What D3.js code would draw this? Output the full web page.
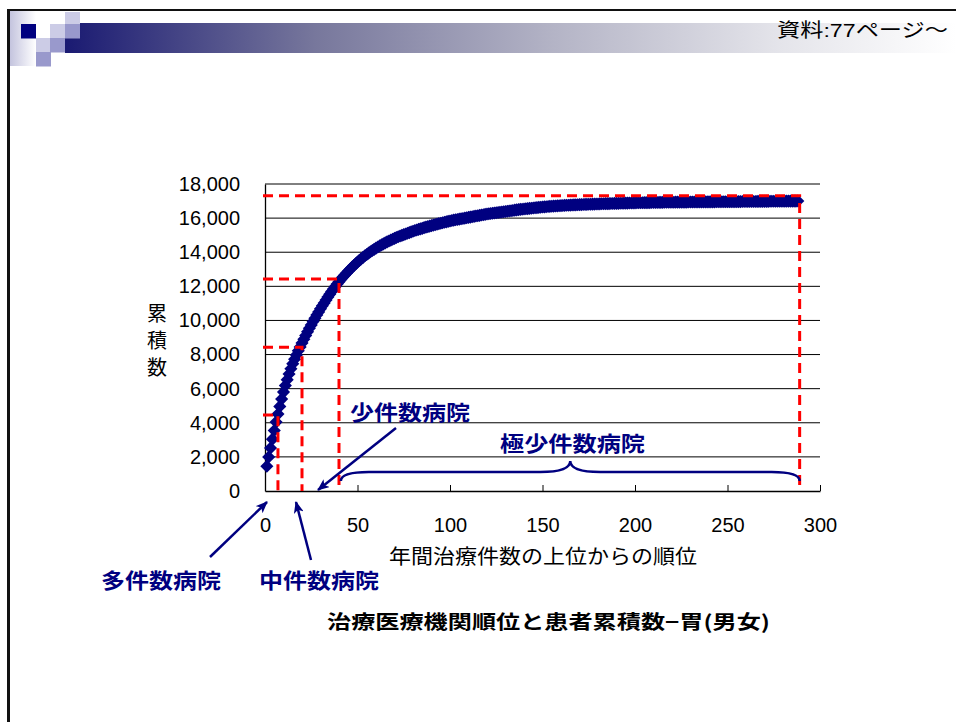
<!DOCTYPE html>
<html>
<head>
<meta charset="utf-8">
<script src="https://cdn.jsdelivr.net/npm/d3@7"></script>
<style>
  body { margin: 0; background: #fff; }
  svg { display: block; }
  text { font-family: "Liberation Sans", Arial, "Noto Sans CJK JP", sans-serif; }
  .jp { font-family: "Noto Sans CJK JP", sans-serif; }
</style>
</head>
<body>
<svg id="chart"></svg>
<script>
// x: 年間治療件数の上位からの順位, y: 累積数
const xTicks = [0, 50, 100, 150, 200, 250, 300];
const yTicks = [0, 2000, 4000, 6000, 8000, 10000, 12000, 14000, 16000, 18000];

// cumulative patients by hospital rank (rank 1 .. 288)
const cumPatients = [
  1450, 1990, 2520, 3040, 3550, 4040, 4510, 4960, 5390, 5800,
  6180, 6530, 6860, 7170, 7460, 7730, 7980, 8220, 8450, 8680,
  8900, 9120, 9330, 9540, 9740, 9940, 10130, 10320, 10500, 10680,
  10860, 11030, 11200, 11370, 11530, 11690, 11840, 11990, 12130, 12270,
  12400, 12530, 12650, 12770, 12890, 13000, 13110, 13220, 13320, 13420,
  13520, 13610, 13700, 13790, 13870, 13950, 14030, 14100, 14170, 14240,
  14310, 14370, 14430, 14490, 14550, 14610, 14660, 14710, 14760, 14810,
  14860, 14910, 14950, 14990, 15030, 15070, 15110, 15150, 15190, 15230,
  15270, 15300, 15340, 15370, 15400, 15440, 15470, 15500, 15530, 15560,
  15590, 15620, 15650, 15680, 15700, 15730, 15760, 15780, 15810, 15830,
  15860, 15880, 15900, 15920, 15940, 15960, 15980, 16000, 16020, 16040,
  16060, 16080, 16100, 16120, 16140, 16160, 16180, 16200, 16220, 16240,
  16255, 16270, 16285, 16300, 16315, 16330, 16345, 16360, 16375, 16390,
  16405, 16420, 16435, 16450, 16465, 16480, 16495, 16510, 16522, 16534,
  16546, 16558, 16570, 16582, 16594, 16605, 16616, 16627, 16638, 16648,
  16658, 16668, 16677, 16686, 16695, 16703, 16711, 16719, 16727, 16734,
  16740, 16746, 16752, 16758, 16764, 16769, 16774, 16779, 16784, 16789,
  16794, 16799, 16803, 16807, 16811, 16815, 16819, 16823, 16827, 16831,
  16835, 16839, 16843, 16846, 16849, 16852, 16855, 16858, 16861, 16864,
  16867, 16870, 16873, 16876, 16879, 16882, 16885, 16888, 16891, 16894,
  16897, 16899, 16901, 16903, 16905, 16907, 16909, 16911, 16913, 16915,
  16917, 16919, 16921, 16923, 16925, 16927, 16929, 16930, 16931, 16932,
  16933, 16934, 16935, 16936, 16937, 16938, 16939, 16940, 16941, 16942,
  16943, 16944, 16945, 16946, 16947, 16948, 16949, 16950, 16951, 16952,
  16953, 16954, 16955, 16956, 16957, 16958, 16959, 16960, 16961, 16962,
  16963, 16964, 16965, 16966, 16967, 16968, 16969, 16970, 16971, 16972,
  16973, 16974, 16975, 16976, 16977, 16978, 16979, 16980, 16981, 16982,
  16983, 16984, 16985, 16986, 16987, 16988, 16989, 16990, 16991, 16992,
  16993, 16994, 16995, 16996, 16997, 16998, 16999, 17000
];

// red dashed guide corners (rank, cumulative value)
const guideRanks = [7, 20, 40, 289];
const guideValues = [4450, 8425, 12430, 17314];

const groupLabels = ["多件数病院", "中件数病院", "少件数病院", "極少件数病院"];
const chartTitle = "治療医療機関順位と患者累積数−胃(男女)";
const xTitle = "年間治療件数の上位からの順位";
const yTitle = ["累", "積", "数"];
const sourceNote = "資料:77ページ～";

const W = 956, H = 722;
const navy = "#000080";

const svg = d3.select("#chart").attr("width", W).attr("height", H);

// ---- slide decoration ----
const defs = svg.append("defs");
const grad = defs.append("linearGradient")
  .attr("id", "band").attr("gradientUnits", "userSpaceOnUse")
  .attr("x1", 65).attr("x2", 956).attr("y1", 0).attr("y2", 0);
grad.append("stop").attr("offset", "0%").attr("stop-color", "#1a1a72");
grad.append("stop").attr("offset", "28%").attr("stop-color", "#77779c");
grad.append("stop").attr("offset", "55%").attr("stop-color", "#b4b4c6");
grad.append("stop").attr("offset", "80%").attr("stop-color", "#e4e4ea");
grad.append("stop").attr("offset", "100%").attr("stop-color", "#ffffff");

const grad2 = defs.append("linearGradient").attr("id", "leftfade");
grad2.append("stop").attr("offset", "0%").attr("stop-color", "#c4c4de");
grad2.append("stop").attr("offset", "100%").attr("stop-color", "#ffffff");

svg.append("rect").attr("x", 10).attr("y", 11).attr("width", 26).attr("height", 55).attr("fill", "url(#leftfade)");
svg.append("rect").attr("x", 65).attr("y", 23).attr("width", 891).attr("height", 30).attr("fill", "url(#band)");

const squares = [
  [21, 24, navy], [65, 12, "#ccccE6"], [50, 24, "#ccccE6"], [65, 24, "#9999cc"],
  [36, 38, "#ccccE6"], [50, 38, "#9999cc"], [36, 52, "#9999cc"]
];
svg.selectAll(".sq").data(squares).enter().append("rect")
  .attr("class", "sq")
  .attr("x", d => d[0]).attr("y", d => d[1])
  .attr("width", 15).attr("height", 14.5)
  .attr("fill", d => d[2]);

svg.append("line").attr("x1", 7).attr("x2", W).attr("y1", 10).attr("y2", 10)
  .attr("stroke", "#111").attr("stroke-width", 2);
svg.append("line").attr("x1", 8.5).attr("x2", 8.5).attr("y1", 9).attr("y2", H)
  .attr("stroke", "#111").attr("stroke-width", 3);

svg.append("text").attr("x", 777).attr("y", 37)
  .attr("font-size", 19).attr("fill", "#000")
  .attr("textLength", 171).attr("lengthAdjust", "spacingAndGlyphs")
  .text(sourceNote);

// ---- chart ----
const x = d3.scaleLinear().domain([0, 300]).range([265, 820]);
const y = d3.scaleLinear().domain([0, 18000]).range([491, 184]);

svg.append("g").selectAll("line").data(yTicks.filter(d => d > 0)).enter().append("line")
  .attr("x1", x(0)).attr("x2", x(300))
  .attr("y1", d => y(d)).attr("y2", d => y(d))
  .attr("stroke", "#000").attr("stroke-width", 1);

const yAxis = svg.append("g")
  .attr("transform", `translate(${x(0)},0)`)
  .call(d3.axisLeft(y).tickValues(yTicks).tickSize(0).tickPadding(25).tickFormat(d3.format(",")));
yAxis.select(".domain").attr("stroke", "#000").attr("stroke-width", 1.3);
yAxis.selectAll("text").attr("font-size", 20).attr("font-family", "Liberation Sans, Arial, sans-serif").attr("fill", "#000");

const xAxis = svg.append("g")
  .attr("transform", `translate(0,${y(0)})`)
  .call(d3.axisBottom(x).tickValues(xTicks).tickSizeInner(-6).tickSizeOuter(0).tickPadding(27));
xAxis.select(".domain").attr("stroke", "#000").attr("stroke-width", 1.3);
xAxis.selectAll("line").attr("stroke", "#000");
xAxis.selectAll("text").attr("font-size", 20).attr("font-family", "Liberation Sans, Arial, sans-serif").attr("fill", "#000");

// axis titles
svg.append("text").attr("class", "jp").attr("x", 543).attr("y", 564)
  .attr("text-anchor", "middle").attr("font-size", 20).attr("fill", "#000")
  .attr("textLength", 308).attr("lengthAdjust", "spacingAndGlyphs")
  .text(xTitle);
svg.append("g").selectAll("text").data(yTitle).enter().append("text")
  .attr("class", "jp").attr("x", 157).attr("y", (d, i) => 321 + i * 27)
  .attr("text-anchor", "middle").attr("font-size", 20).attr("fill", "#000")
  .text(d => d);

// data points (diamonds)
const diamond = d3.symbol().type(d3.symbolSquare).size(86);
svg.append("g").selectAll("path").data(cumPatients).enter().append("path")
  .attr("d", diamond)
  .attr("transform", (d, i) => `translate(${x(i + 1)},${y(d)}) rotate(45)`)
  .attr("fill", navy);

// red dashed guides
const guides = svg.append("g").attr("stroke", "#ff0000").attr("stroke-width", 3)
  .attr("stroke-dasharray", "10,6").attr("fill", "none");
guideRanks.forEach((r, i) => {
  guides.append("path")
    .attr("d", `M${x(0) - 2},${y(guideValues[i])}H${x(r)}V${y(0)}`);
});

// brace under 極少件数病院
const bx0 = x(41), bx1 = x(289), bm = (bx0 + bx1) / 2, yb = y(0);
svg.append("path")
  .attr("d", `M${bx0},${yb - 10} Q${bx0},${yb - 19} ${bx0 + 28},${yb - 19} L${bm - 30},${yb - 19}` +
             ` C${bm - 8},${yb - 19} ${bm},${yb - 23} ${bm},${yb - 30}` +
             ` C${bm},${yb - 23} ${bm + 8},${yb - 19} ${bm + 30},${yb - 19}` +
             ` L${bx1 - 28},${yb - 19} Q${bx1},${yb - 19} ${bx1},${yb - 10}`)
  .attr("fill", "none").attr("stroke", navy).attr("stroke-width", 2.5);

// arrows
defs.append("marker").attr("id", "arrow")
  .attr("viewBox", "0 0 12 10").attr("refX", 11).attr("refY", 5)
  .attr("markerWidth", 12).attr("markerHeight", 10)
  .attr("markerUnits", "userSpaceOnUse").attr("orient", "auto")
  .append("path").attr("d", "M0,0 L12,5 L0,10 L3,5 Z").attr("fill", navy);

const arrows = [
  [396, 428, 318, 490],
  [210, 557, 267, 502],
  [311, 560, 296, 502]
];
svg.append("g").selectAll("line").data(arrows).enter().append("line")
  .attr("x1", d => d[0]).attr("y1", d => d[1]).attr("x2", d => d[2]).attr("y2", d => d[3])
  .attr("stroke", navy).attr("stroke-width", 2.5).attr("marker-end", "url(#arrow)");

// group labels
const labelPos = [[101, 588, 120], [259, 588, 120], [350, 420, 120], [500, 451, 145]];
svg.append("g").selectAll("text").data(groupLabels).enter().append("text")
  .attr("class", "jp")
  .attr("x", (d, i) => labelPos[i][0]).attr("y", (d, i) => labelPos[i][1])
  .attr("font-size", 21).attr("font-weight", "bold").attr("fill", navy)
  .attr("textLength", (d, i) => labelPos[i][2]).attr("lengthAdjust", "spacingAndGlyphs")
  .text(d => d);

// chart title
svg.append("text").attr("class", "jp").attr("x", 327).attr("y", 629)
  .attr("font-size", 19).attr("font-weight", "bold").attr("fill", "#000")
  .attr("textLength", 443).attr("lengthAdjust", "spacingAndGlyphs")
  .text(chartTitle);
</script>
</body>
</html>
